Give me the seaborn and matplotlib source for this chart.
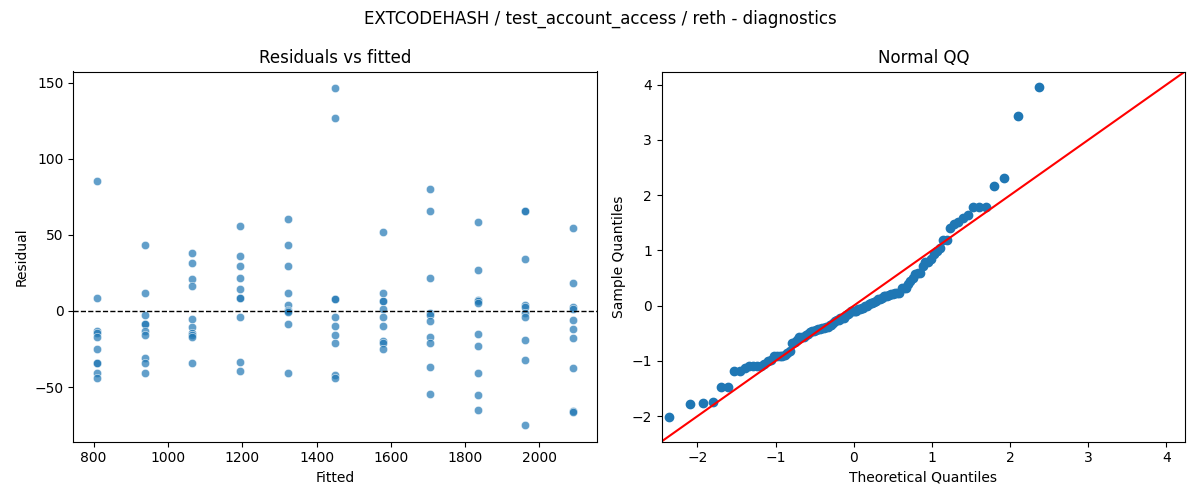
import numpy as np
import pandas as pd
import matplotlib
matplotlib.use("Agg")
import matplotlib.pyplot as plt
import seaborn as sns
from statistics import NormalDist

# ---- data ----
fitted_levels = [809, 938, 1065, 1193, 1322, 1449, 1579, 1706, 1834, 1961, 2090]
res_809 = [85.6, 8.5, -12.9, -14.6, -17.2, -24.8, -34.0, -34.0, -40.7, -44.0]
res_938 = [43.6, 11.5, -2.8, -8.7, -8.7, -13.5, -15.9, -30.7, -34.2, -40.7]
res_1065 = [38.3, 31.2, 20.7, 16.6, -5.4, -10.7, -14.5, -15.5, -16.8, -34.2]
res_1193 = [56.0, 36.4, 29.2, 21.4, 14.2, 8.3, 8.3, -4.1, -33.3, -39.4]
res_1322 = [60.6, 43.6, 29.2, 11.5, 3.9, 0.8, -0.3, -0.8, -8.7, -40.7]
res_1449 = [146.2, 126.6, 7.8, 7.8, -4.1, -10.0, -15.9, -21.1, -41.8, -44.0]
res_1579 = [52.1, 11.5, 6.5, 6.5, 1.3, -4.1, -10.0, -19.8, -21.1, -25.0]
res_1706 = [80.2, 65.8, 21.4, -1.5, -2.5, -6.7, -17.2, -21.1, -36.6, -54.5]
res_1834 = [58.6, 26.6, 7.0, 6.5, 5.0, -15.3, -23.1, -40.7, -54.9, -64.9]
res_1961 = [65.8, 65.8, 34.4, 3.9, 2.6, -1.5, -4.1, -19.2, -32.2, -74.7]
res_2090 = [54.7, 18.1, 2.4, 1.5, -6.1, -12.0, -17.8, -37.5, -65.5, -66.2]
residual_groups = [res_809, res_938, res_1065, res_1193, res_1322, res_1449,
                   res_1579, res_1706, res_1834, res_1961, res_2090]

title = "EXTCODEHASH / test_account_access / reth - diagnostics"

# ---- build tables ----
fitted, resid = [], []
for f, grp in zip(fitted_levels, residual_groups):
    fitted += [f] * len(grp)
    resid += grp
df = pd.DataFrame({"Fitted": fitted, "Residual": resid})

# QQ (standardised residuals vs normal quantiles, positions i/(n+1))
r = np.sort(np.asarray(resid, dtype=float))
n = len(r)
sample_q = (r - r.mean()) / r.std()
nd = NormalDist()
theo_q = np.array([nd.inv_cdf(i / (n + 1)) for i in range(1, n + 1)])
qq = pd.DataFrame({"theo": theo_q, "sample": sample_q})

# ---- plot ----
fig, axes = plt.subplots(1, 2, figsize=(12, 5), dpi=100)
ax1, ax2 = axes

sns.scatterplot(data=df, x="Fitted", y="Residual", ax=ax1, alpha=0.7)
ax1.axhline(0, color="black", linestyle="--", linewidth=1)
ax1.set_title("Residuals vs fitted")

sns.scatterplot(data=qq, x="theo", y="sample", ax=ax2, color="C0",
                edgecolor="C0", linewidth=1, s=36)
lo, hi = -2.46, 4.24
ax2.plot([lo, hi], [lo, hi], color="red")
ax2.set_xlim(lo, hi)
ax2.set_ylim(lo, hi)
ax2.set_xlabel("Theoretical Quantiles")
ax2.set_ylabel("Sample Quantiles")
ax2.set_title("Normal QQ")

fig.suptitle(title)
fig.subplots_adjust(left=0.061, right=0.9875, top=0.857, bottom=0.117, wspace=0.124)
fig.savefig("out.png", dpi=100)
